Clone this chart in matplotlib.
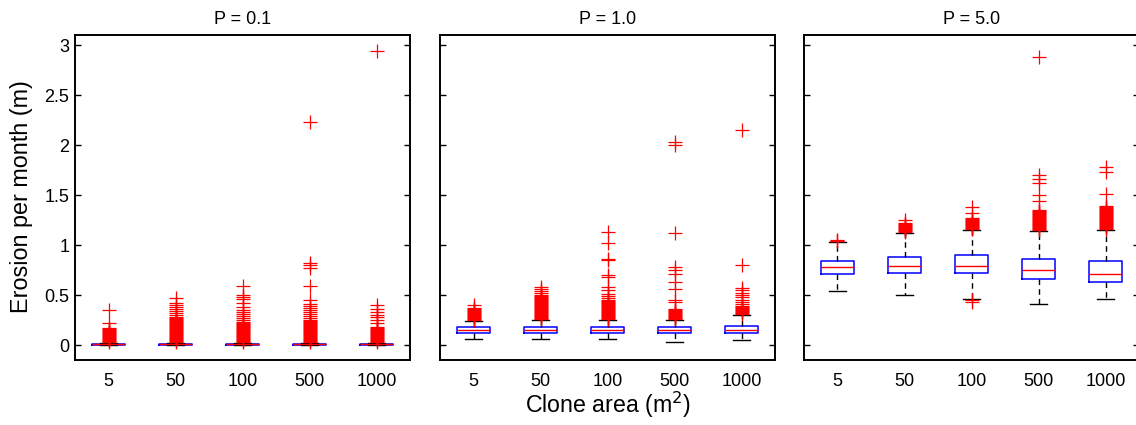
import matplotlib
matplotlib.use("Agg")
import matplotlib.pyplot as plt

plt.rcParams['font.family'] = ['Liberation Sans', 'DejaVu Sans']

categories = ['5', '50', '100', '500', '1000']
titles = ['P = 0.1', 'P = 1.0', 'P = 5.0']

# ---- P = 0.1 ----
p01_q1 = [0.0, 0.0, 0.0, 0.0, 0.0]
p01_med = [0.006, 0.006, 0.006, 0.006, 0.006]
p01_q3 = [0.012, 0.012, 0.012, 0.012, 0.012]
p01_lo = [0.0, 0.0, 0.0, 0.0, 0.0]
p01_hi = [0.025, 0.025, 0.025, 0.025, 0.025]
p01_out_5 = [0.03, 0.04, 0.05, 0.06, 0.07, 0.08, 0.09, 0.10, 0.11, 0.12, 0.13,
             0.14, 0.15, 0.16, 0.17, 0.22, 0.35]
p01_out_50 = [0.03, 0.04, 0.05, 0.06, 0.07, 0.08, 0.09, 0.10, 0.11, 0.12, 0.13,
              0.14, 0.15, 0.16, 0.17, 0.18, 0.19, 0.20, 0.21, 0.22, 0.23, 0.24,
              0.25, 0.26, 0.27, 0.28, 0.30, 0.32, 0.34, 0.36, 0.38, 0.40, 0.42, 0.47]
p01_out_100 = [0.03, 0.04, 0.05, 0.06, 0.07, 0.08, 0.09, 0.10, 0.11, 0.12, 0.13,
               0.14, 0.15, 0.16, 0.17, 0.18, 0.19, 0.20, 0.21, 0.22, 0.23, 0.25,
               0.27, 0.29, 0.31, 0.33, 0.35, 0.38, 0.42, 0.46, 0.48, 0.50, 0.59]
p01_out_500 = [0.03, 0.04, 0.05, 0.06, 0.07, 0.08, 0.09, 0.10, 0.11, 0.12, 0.13,
               0.14, 0.15, 0.16, 0.17, 0.18, 0.19, 0.20, 0.21, 0.22, 0.23, 0.24,
               0.25, 0.27, 0.29, 0.31, 0.33, 0.35, 0.37, 0.39, 0.41, 0.45, 0.59,
               0.77, 0.80, 0.82, 2.23]
p01_out_1000 = [0.03, 0.04, 0.05, 0.06, 0.07, 0.08, 0.09, 0.10, 0.11, 0.12, 0.13,
                0.14, 0.15, 0.16, 0.17, 0.18, 0.22, 0.25, 0.28, 0.30, 0.33, 0.36,
                0.40, 2.94]

# ---- P = 1.0 ----
p1_q1 = [0.120, 0.118, 0.118, 0.117, 0.122]
p1_med = [0.150, 0.150, 0.150, 0.150, 0.150]
p1_q3 = [0.183, 0.183, 0.183, 0.183, 0.193]
p1_lo = [0.060, 0.060, 0.060, 0.033, 0.050]
p1_hi = [0.240, 0.250, 0.250, 0.250, 0.300]
p1_out_5 = [0.25, 0.26, 0.27, 0.28, 0.29, 0.30, 0.31, 0.32, 0.33, 0.34, 0.35,
            0.36, 0.37, 0.40]
p1_out_50 = [0.26, 0.27, 0.28, 0.29, 0.30, 0.31, 0.32, 0.33, 0.34, 0.35, 0.36,
             0.37, 0.38, 0.39, 0.40, 0.41, 0.42, 0.43, 0.44, 0.45, 0.46, 0.47,
             0.48, 0.49, 0.50, 0.52, 0.54, 0.56, 0.58]
p1_out_100 = [0.26, 0.27, 0.28, 0.29, 0.30, 0.31, 0.32, 0.33, 0.34, 0.35, 0.36,
              0.37, 0.38, 0.39, 0.40, 0.41, 0.42, 0.43, 0.44, 0.45, 0.47, 0.49,
              0.51, 0.55, 0.58, 0.68, 0.70, 0.85, 0.86, 1.02, 1.13]
p1_out_500 = [0.26, 0.27, 0.28, 0.29, 0.30, 0.31, 0.32, 0.33, 0.34, 0.35, 0.36,
              0.43, 0.45, 0.56, 0.63, 0.71, 0.75, 0.78, 1.12, 2.00, 2.03]
p1_out_1000 = [0.31, 0.32, 0.33, 0.34, 0.35, 0.36, 0.37, 0.38, 0.39, 0.41, 0.43,
               0.45, 0.48, 0.50, 0.52, 0.55, 0.57, 0.80, 2.15]

# ---- P = 5.0 ----
p5_q1 = [0.707, 0.717, 0.717, 0.660, 0.633]
p5_med = [0.783, 0.793, 0.793, 0.752, 0.710]
p5_q3 = [0.840, 0.883, 0.900, 0.857, 0.840]
p5_lo = [0.543, 0.500, 0.460, 0.410, 0.457]
p5_hi = [1.033, 1.117, 1.150, 1.140, 1.150]
p5_out_5 = [1.04, 1.045, 1.05]
p5_out_50 = [1.13, 1.14, 1.15, 1.16, 1.17, 1.18, 1.19, 1.20, 1.21, 1.22, 1.25]
p5_out_100 = [0.43, 0.45, 1.16, 1.17, 1.18, 1.19, 1.20, 1.21, 1.22, 1.23, 1.24,
              1.25, 1.26, 1.27, 1.32, 1.38]
p5_out_500 = [1.15, 1.16, 1.17, 1.18, 1.19, 1.20, 1.21, 1.22, 1.23, 1.24, 1.25,
              1.26, 1.27, 1.28, 1.29, 1.30, 1.31, 1.32, 1.33, 1.34, 1.35, 1.44,
              1.50, 1.62, 1.66, 1.70, 2.88]
p5_out_1000 = [1.16, 1.17, 1.18, 1.19, 1.20, 1.21, 1.22, 1.23, 1.24, 1.25, 1.26,
               1.27, 1.28, 1.29, 1.30, 1.31, 1.32, 1.33, 1.34, 1.35, 1.36, 1.37,
               1.38, 1.39, 1.51, 1.73, 1.78]

panels = [
    (p01_q1, p01_med, p01_q3, p01_lo, p01_hi,
     [p01_out_5, p01_out_50, p01_out_100, p01_out_500, p01_out_1000]),
    (p1_q1, p1_med, p1_q3, p1_lo, p1_hi,
     [p1_out_5, p1_out_50, p1_out_100, p1_out_500, p1_out_1000]),
    (p5_q1, p5_med, p5_q3, p5_lo, p5_hi,
     [p5_out_5, p5_out_50, p5_out_100, p5_out_500, p5_out_1000]),
]

W, H = 1136, 425
fig = plt.figure(figsize=(W / 100, H / 100), dpi=100)

lefts_px = [75, 440, 804]
ax_w_px = 335
top_px, bot_px = 35, 360

for i, (q1, med, q3, lo, hi, outs) in enumerate(panels):
    ax = fig.add_axes([lefts_px[i] / W, 1 - bot_px / H, ax_w_px / W, (bot_px - top_px) / H])
    stats = []
    for j in range(len(categories)):
        stats.append(dict(q1=q1[j], med=med[j], q3=q3[j], whislo=lo[j],
                          whishi=hi[j], fliers=outs[j], label=categories[j]))
    ax.bxp(stats, positions=range(1, 6), widths=0.5, capwidths=0.25,
           boxprops=dict(color='#0000ff', linewidth=1.1),
           medianprops=dict(color='#ff0000', linewidth=1.0),
           whiskerprops=dict(color='black', linewidth=1.0, linestyle=(0, (4, 3))),
           capprops=dict(color='black', linewidth=1.0),
           flierprops=dict(marker='+', markeredgecolor='#ff0000', markersize=10.5,
                           markeredgewidth=0.9, linestyle='none'))
    ax.set_xlim(0.5, 5.5)
    ax.set_ylim(-0.15, 3.1)
    ax.set_yticks([0, 0.5, 1, 1.5, 2, 2.5, 3])
    ax.set_yticklabels(['0', '0.5', '1', '1.5', '2', '2.5', '3'])
    ax.tick_params(axis='y', direction='in', length=4, width=1.0, right=True,
                   labelsize=13, pad=4, labelleft=(i == 0))
    ax.tick_params(axis='x', length=0, labelsize=13, pad=9)
    for s in ax.spines.values():
        s.set_linewidth(1.4)
    ax.set_title(titles[i], fontsize=13, pad=8)

fig.text(22 / W, 1 - 197 / H, 'Erosion per month (m)', rotation=90,
         ha='center', va='center', fontsize=16.8)
fig.text(608 / W, 1 - 405 / H, 'Clone area (m$^2$)', ha='center', va='center',
         fontsize=16.7)

fig.savefig('out.png', dpi=100)
